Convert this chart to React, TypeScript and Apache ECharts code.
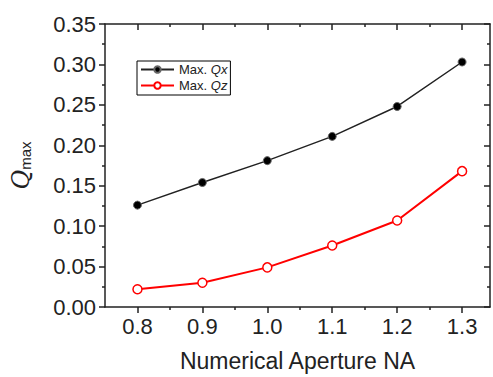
import React, { useEffect, useRef } from "react";
import * as echarts from "echarts";

const naValues = [0.8, 0.9, 1.0, 1.1, 1.2, 1.3];
const qxValues = [0.126, 0.154, 0.181, 0.211, 0.248, 0.303];
const qzValues = [0.022, 0.03, 0.049, 0.076, 0.107, 0.168];
const seriesNames = ["Max. Qx", "Max. Qz"];
const xMajorTicks = [0.8, 0.9, 1.0, 1.1, 1.2, 1.3];
const xMinorTicks = [0.85, 0.95, 1.05, 1.15, 1.25];
const xTitle = "Numerical Aperture NA";

const FONT = "Liberation Sans";
const AX = "#222";

export default function App() {
  const ref = useRef<HTMLDivElement>(null);
  useEffect(() => {
    if (!ref.current) return;
    const chart = echarts.init(ref.current, undefined, { renderer: "svg" });
    const xMin = 0.75;
    const xMax = 1.343;
    const baseX = (pos: string, ticks: number[], len: number, inside: boolean, main: boolean) => ({
      type: "value",
      position: pos,
      min: xMin,
      max: xMax,
      axisLine: { show: main, lineStyle: { color: AX, width: 1.5 } },
      axisTick: { show: true, inside, length: len, customValues: ticks, lineStyle: { color: AX, width: 1.5 } },
      axisLabel: {
        show: main && pos === "bottom",
        customValues: ticks,
        formatter: (v: number) => v.toFixed(1),
        color: AX,
        fontSize: 22,
        fontFamily: FONT,
        margin: 8,
      },
      splitLine: { show: false },
    });
    const xAxes: any[] = [
      {
        ...baseX("bottom", xMajorTicks, 6, false, true),
        name: xTitle,
        nameLocation: "middle",
        nameGap: 42,
        nameTextStyle: { color: AX, fontSize: 23, fontFamily: FONT },
      },
      baseX("bottom", xMinorTicks, 3, false, false),
      baseX("top", xMajorTicks, 6, true, true),
      baseX("top", xMinorTicks, 3, true, false),
    ];
    const baseY = (pos: string, inside: boolean, main: boolean) => ({
      type: "value",
      position: pos,
      min: 0,
      max: 0.35,
      interval: 0.05,
      axisLine: { show: true, lineStyle: { color: AX, width: 1.5 } },
      axisTick: { show: true, inside, length: 6, lineStyle: { color: AX, width: 1.5 } },
      minorTick: { show: true, splitNumber: 2, length: 3, lineStyle: { color: AX, width: 1.5 } },
      axisLabel: {
        show: main,
        formatter: (v: number) => v.toFixed(2),
        color: AX,
        fontSize: 22,
        fontFamily: FONT,
        margin: 9,
      },
      splitLine: { show: false },
      minorSplitLine: { show: false },
    });
    const yAxes: any[] = [
      {
        ...baseY("left", false, true),
        name: "{q|Q}{s|max}",
        nameLocation: "middle",
        nameRotate: 90,
        nameGap: 72,
        nameTextStyle: {
          rich: {
            q: { fontFamily: "DejaVu Serif", fontStyle: "italic", fontSize: 24, color: AX },
            s: { fontFamily: FONT, fontSize: 15, color: AX, verticalAlign: "bottom", padding: [10, 0, 0, 0] },
          },
        },
      },
      baseY("right", true, false),
    ];
    chart.setOption({
      animation: false,
      backgroundColor: "#fff",
      grid: { left: 105, right: 3, top: 24, bottom: 67 },
      xAxis: xAxes,
      yAxis: yAxes,
      legend: {
        orient: "vertical",
        left: 137,
        top: 61,
        itemWidth: 33,
        itemHeight: 8,
        itemGap: 3,
        padding: [2, 3, 3, 3],
        borderColor: "#000",
        borderWidth: 1,
        backgroundColor: "#fff",
        data: seriesNames,
        formatter: (name: string) => "{n|Max. }{i|" + name.slice(5) + "}",
        textStyle: {
          fontSize: 13,
          fontFamily: FONT,
          color: AX,
          rich: {
            n: { fontFamily: FONT, fontSize: 13, color: AX },
            i: { fontFamily: FONT, fontStyle: "italic", fontSize: 13, color: AX },
          },
        },
      },
      series: [
        {
          name: seriesNames[0],
          type: "line",
          xAxisIndex: 0,
          yAxisIndex: 0,
          data: naValues.map((x, i) => [x, qxValues[i]]),
          symbol: "circle",
          symbolSize: 8,
          lineStyle: { color: "#222", width: 1.5 },
          itemStyle: { color: "#000", borderColor: "#666", borderWidth: 1 },
        },
        {
          name: seriesNames[1],
          type: "line",
          xAxisIndex: 0,
          yAxisIndex: 0,
          data: naValues.map((x, i) => [x, qzValues[i]]),
          symbol: "circle",
          symbolSize: 9,
          lineStyle: { color: "#ff0000", width: 2 },
          itemStyle: { color: "#fff", borderColor: "#ff0000", borderWidth: 1.5 },
        },
      ],
    });
    return () => chart.dispose();
  }, []);
  return <div ref={ref} style={{ width: 493, height: 377, position: "absolute", left: 0, top: 0 }} />;
}
